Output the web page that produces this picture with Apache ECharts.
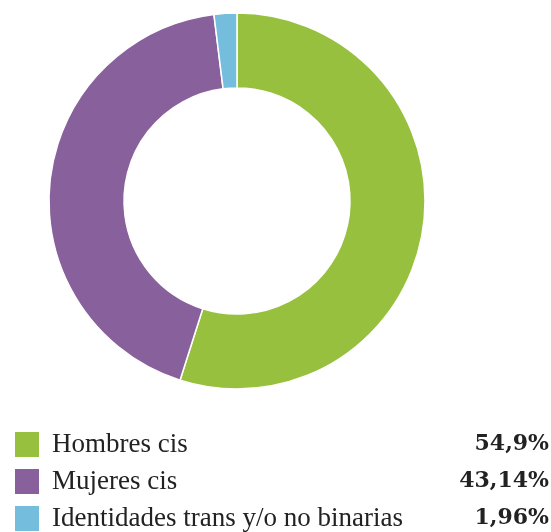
<!DOCTYPE html>
<html>
<head>
<meta charset="utf-8">
<script src="https://cdn.jsdelivr.net/npm/echarts@6/dist/echarts.min.js"></script>
<style>
  html, body { margin: 0; padding: 0; background: #fff; }
  #chart { width: 551px; height: 532px; }
</style>
</head>
<body>
<div id="chart"></div>
<script>
// datos del gráfico
var categories = ["Hombres cis", "Mujeres cis", "Identidades trans y/o no binarias"];
var values = [54.9, 43.14, 1.96];
var valueLabels = ["54,9%", "43,14%", "1,96%"];
var colors = ["#96c03d", "#88619c", "#74bddc"];

var chart = echarts.init(document.getElementById("chart"));

var pieData = categories.map(function (name, i) {
  return { name: name, value: values[i], itemStyle: { color: colors[i] } };
});

var option = {
  backgroundColor: "#fff",
  animation: false,
  legend: {
    orient: "vertical",
    left: 13,
    top: 430,
    height: 200,
    padding: 0,
    itemWidth: 26,
    itemHeight: 27,
    itemGap: 8,
    icon: "rect",
    selectedMode: false,
    data: categories,
    formatter: function (name) {
      var i = categories.indexOf(name);
      return "{n|" + name + "}{v|" + valueLabels[i] + "}";
    },
    textStyle: {
      rich: {
        n: {
          width: 252,
          height: 27,
          lineHeight: 27,
          padding: [0, 0, 0, 7],
          fontFamily: "Liberation Serif",
          fontSize: 27,
          color: "#222"
        },
        v: {
          width: 245,
          height: 27,
          lineHeight: 27,
          align: "right",
          fontFamily: "DejaVu Serif",
          fontWeight: "bold",
          fontSize: 22,
          color: "#222"
        }
      }
    }
  },
  series: [
    {
      type: "pie",
      center: [237, 201],
      radius: [113, 188],
      startAngle: 90,
      label: { show: false },
      labelLine: { show: false },
      emphasis: { disabled: true },
      itemStyle: { borderColor: "#fff", borderWidth: 1.5 },
      data: pieData
    }
  ]
};

chart.setOption(option);
</script>
</body>
</html>
